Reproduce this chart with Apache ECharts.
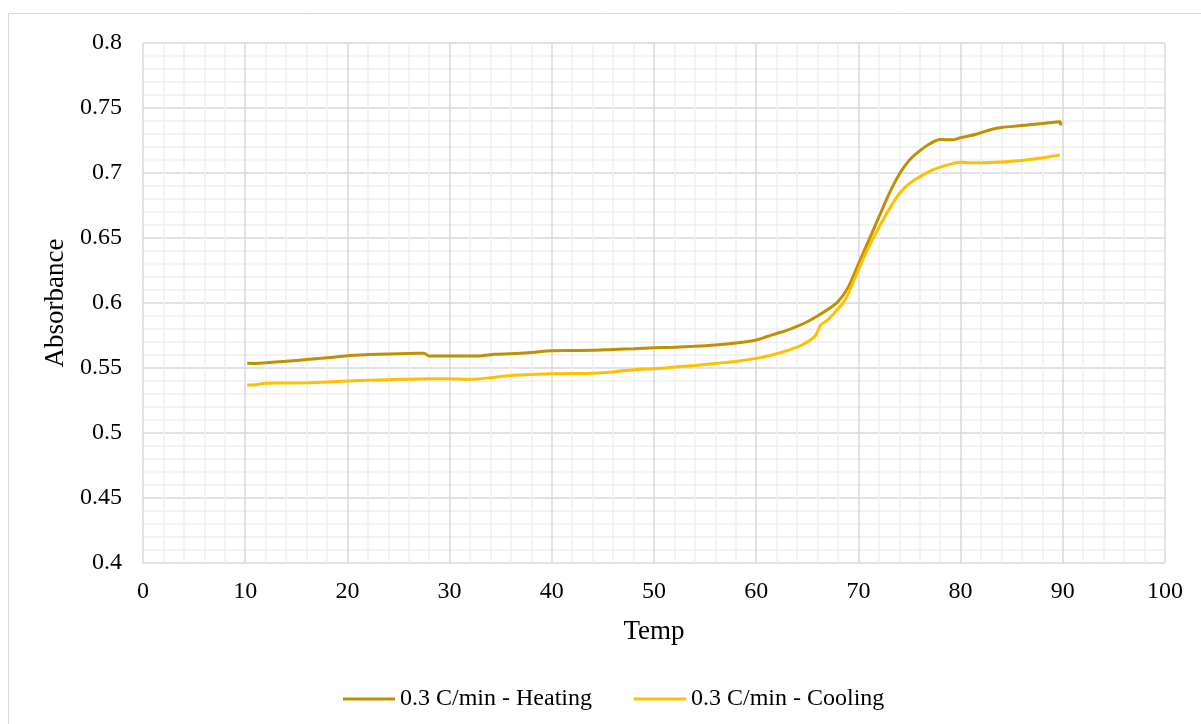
<!DOCTYPE html>
<html>
<head>
<meta charset="utf-8">
<script src="https://cdn.jsdelivr.net/npm/echarts@6/dist/echarts.min.js"></script>
<style>
  html, body { margin: 0; padding: 0; background: #fff; }
  #chart { width: 1201px; height: 724px; }
</style>
</head>
<body>
<div id="chart"></div>
<script>
// Temperature (°C) samples and measured absorbance for each ramp
const heatingTemp = [10.2, 11, 12, 14, 16, 18, 20, 22, 24, 26, 27.5, 28, 30, 32, 33, 34.4, 36, 38, 40, 42, 44, 46, 48, 50, 52, 54, 56, 58, 60, 61, 62, 63, 64, 65, 66, 67, 68, 69, 70, 71, 72, 73, 74, 75, 76, 77, 78, 79.2, 80, 81, 82, 83, 84, 86, 88, 89.7, 89.8];
const heatingAbs = [0.5536, 0.5535, 0.554, 0.5552, 0.5565, 0.5578, 0.5595, 0.5603, 0.5608, 0.5612, 0.5613, 0.5592, 0.5592, 0.5592, 0.5593, 0.5605, 0.561, 0.562, 0.5633, 0.5635, 0.5636, 0.5643, 0.5648, 0.5655, 0.566, 0.5667, 0.5677, 0.5692, 0.5715, 0.574, 0.5765, 0.579, 0.582, 0.5856, 0.590, 0.595, 0.601, 0.612, 0.630, 0.648, 0.666, 0.684, 0.699, 0.710, 0.717, 0.7225, 0.7257, 0.7255, 0.7272, 0.7288, 0.731, 0.7335, 0.735, 0.7365, 0.738, 0.7395, 0.7365];

const coolingTemp = [10.2, 11, 12, 13, 16, 20, 24, 28, 30, 32, 34, 36, 38, 40, 42, 44, 46, 48, 50, 52, 54, 56, 58, 60, 62, 64, 65, 65.8, 66.3, 67, 67.6, 68.5, 69, 70, 71, 72, 73, 74, 75, 76, 77, 78, 79, 80, 81, 83, 85, 87, 89.7];
const coolingAbs = [0.5370, 0.5372, 0.5382, 0.5385, 0.5386, 0.540, 0.541, 0.5418, 0.5418, 0.5413, 0.5425, 0.5443, 0.545, 0.5456, 0.5457, 0.546, 0.547, 0.5487, 0.5495, 0.5507, 0.552, 0.5535, 0.555, 0.5574, 0.561, 0.566, 0.570, 0.575, 0.583, 0.587, 0.592, 0.600, 0.607, 0.6254, 0.643, 0.658, 0.672, 0.684, 0.692, 0.697, 0.7015, 0.7045, 0.7068, 0.7082, 0.7078, 0.708, 0.709, 0.7105, 0.7138];

const seriesNames = ['0.3 C/min - Heating', '0.3 C/min - Cooling'];

const pairs = (xs, ys) => xs.map((x, i) => [x, ys[i]]);

const FONT = '"Liberation Serif", "Times New Roman", serif';

const chart = echarts.init(document.getElementById('chart'));
chart.setOption({
  animation: false,
  backgroundColor: '#ffffff',
  graphic: [{
    type: 'rect',
    shape: { x: 8.5, y: 13.5, width: 1250, height: 800 },
    style: { fill: 'none', stroke: '#d9d9d9', lineWidth: 1 },
    silent: true,
    z: -1
  }],
  grid: { left: 143, right: 36, top: 43, bottom: 161, containLabel: false },
  legend: {
    top: 682,
    left: 338,
    itemWidth: 52,
    itemHeight: 3,
    itemGap: 42,
    icon: 'rect',
    textStyle: { fontFamily: FONT, fontSize: 24, color: '#000' },
    data: seriesNames
  },
  xAxis: {
    type: 'value',
    min: 0, max: 100, interval: 10,
    name: 'Temp',
    nameLocation: 'middle',
    nameGap: 55,
    nameTextStyle: { fontFamily: FONT, fontSize: 27, color: '#000' },
    axisLine: { show: false },
    axisTick: { show: false },
    axisLabel: { fontFamily: FONT, fontSize: 24, color: '#000', margin: 17 },
    splitLine: { show: true, lineStyle: { color: '#d9d9d9', width: 1.5 } },
    minorTick: { show: false, splitNumber: 5 },
    minorSplitLine: { show: true, lineStyle: { color: '#efefef', width: 1.5 } }
  },
  yAxis: {
    type: 'value',
    min: 0.4, max: 0.8, interval: 0.05,
    name: 'Absorbance',
    nameLocation: 'middle',
    nameGap: 72,
    nameRotate: 90,
    nameTextStyle: { fontFamily: FONT, fontSize: 27, color: '#000' },
    axisLine: { show: false },
    axisTick: { show: false },
    axisLabel: {
      fontFamily: FONT, fontSize: 24, color: '#000', margin: 21,
      formatter: v => String(parseFloat(v.toFixed(2)))
    },
    splitLine: { show: true, lineStyle: { color: '#d9d9d9', width: 1.5 } },
    minorTick: { show: false, splitNumber: 5 },
    minorSplitLine: { show: true, lineStyle: { color: '#efefef', width: 1.5 } }
  },
  series: [
    {
      name: seriesNames[0],
      type: 'line',
      data: pairs(heatingTemp, heatingAbs),
      showSymbol: false,
      smooth: 0.3,
      lineStyle: { color: '#BF9000', width: 3 },
      itemStyle: { color: '#BF9000' }
    },
    {
      name: seriesNames[1],
      type: 'line',
      data: pairs(coolingTemp, coolingAbs),
      showSymbol: false,
      smooth: 0.3,
      lineStyle: { color: '#FFC000', width: 3 },
      itemStyle: { color: '#FFC000' }
    }
  ]
});
</script>
</body>
</html>
